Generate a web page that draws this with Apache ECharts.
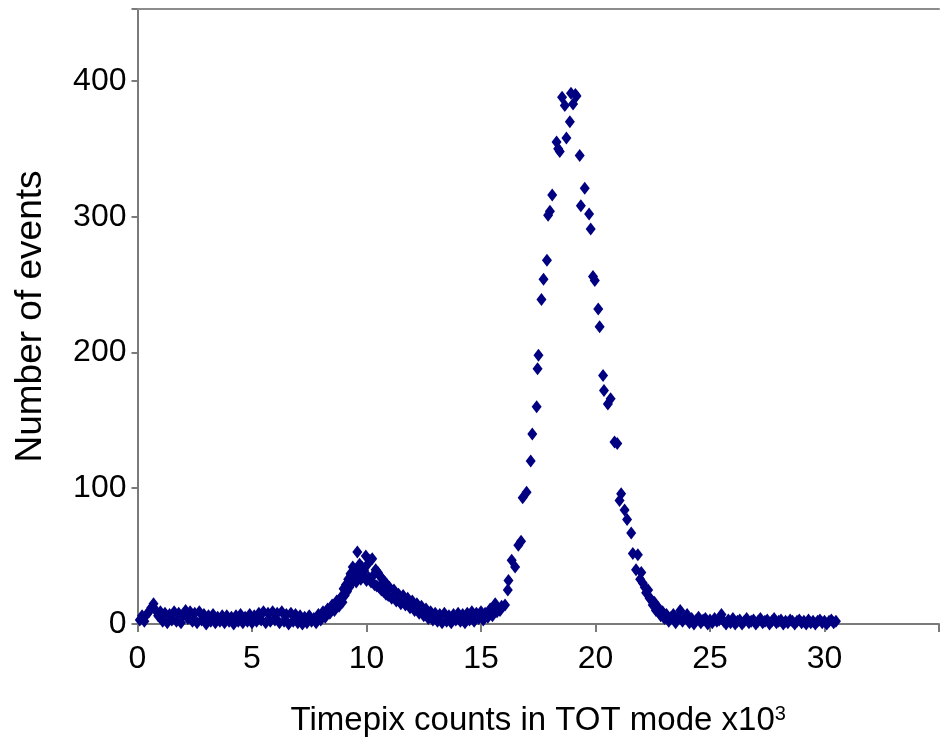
<!DOCTYPE html>
<html>
<head>
<meta charset="utf-8">
<script src="https://cdn.jsdelivr.net/npm/echarts@6/dist/echarts.min.js"></script>
<style>
html,body{margin:0;padding:0;background:#fff;}
#chart{width:942px;height:751px;}
</style>
</head>
<body>
<div id="chart"></div>
<script>
// x = Timepix counts in TOT mode (x10^3), y = number of events
const baseline = [
[0.1,3],[0.2,6],[0.3,2],[0.4,7],[0.5,9],[0.6,12],[0.7,15],[0.8,10],[0.9,6],[1.0,9],
[1.1,2],[1.2,8],[1.3,1],[1.4,7],[1.5,3],[1.6,9],[1.7,2],[1.8,8],[1.9,1],[2.0,7],
[2.1,10],[2.2,4],[2.3,9],[2.4,2],[2.5,8],[2.6,1],[2.7,9],[2.8,3],[2.9,7],[3.0,0],
[3.1,6],[3.2,2],[3.3,7],[3.4,1],[3.5,5],[3.6,2],[3.7,6],[3.8,1],[3.9,6],[4.0,2],
[4.1,5],[4.2,0],[4.3,6],[4.4,2],[4.5,7],[4.6,1],[4.7,5],[4.8,2],[4.9,7],[5.0,1],
[5.1,6],[5.2,2],[5.3,8],[5.4,3],[5.5,9],[5.6,1],[5.7,8],[5.8,2],[5.9,9],[6.0,3],
[6.1,8],[6.2,1],[6.3,9],[6.4,2],[6.5,7],[6.6,0],[6.7,8],[6.8,2],[6.9,7],[7.0,1],
[7.1,6],[7.2,0],[7.3,5],[7.4,1],[7.5,6],[7.6,2],[7.7,4],[7.8,1]
];
const smallPeak = [
[7.9,7],[8.0,3],[8.1,9],[8.2,5],[8.3,11],[8.4,8],[8.5,14],[8.6,10],[8.7,17],[8.8,13],
[8.9,20],[8.95,16],[9.0,26],[9.05,21],[9.1,29],[9.15,24],[9.2,33],[9.25,27],[9.3,37],[9.35,30],
[9.4,42],[9.45,33],[9.5,40],[9.55,31],[9.6,53],[9.65,36],[9.7,44],[9.75,33],[9.8,42],[9.85,35],
[9.9,39],[9.97,50],[10.0,32],[10.05,44],[10.1,34],[10.15,47],[10.2,31],[10.25,48],[10.3,36],[10.35,29],
[10.4,40],[10.45,28],[10.5,38],[10.55,27],[10.6,35],[10.65,25],[10.7,33],[10.75,24],[10.8,31],[10.85,22],
[10.9,29],[10.95,21],[11.0,27],[11.1,19],[11.2,25],[11.3,17],[11.4,22],[11.5,15],[11.6,21],[11.7,14],
[11.8,19],[11.9,12],[12.0,17],[12.1,10],[12.2,15],[12.3,8],[12.4,13],[12.5,6],[12.6,11],[12.7,4],
[12.8,9],[12.9,3],[13.0,8],[13.1,2],[13.2,7],[13.3,1],[13.4,8],[13.5,2],[13.6,6],[13.7,1],
[13.8,7],[13.9,3],[14.0,8],[14.1,2],[14.2,7],[14.3,1],[14.4,8],[14.5,3],[14.6,9],[14.7,2],
[14.8,8],[14.9,4]
];
const mainPeak = [
[15.0,9],[15.1,3],[15.18,8],[15.3,5],[15.4,11],[15.5,6],[15.62,15],[15.7,9],[15.83,10],[15.9,13],
[16.05,14],[16.17,25],[16.2,32],[16.34,47],[16.49,42],[16.63,58],[16.75,61],[16.82,93],[16.99,97],[17.17,120],
[17.24,140],[17.43,160],[17.47,188],[17.51,198],[17.64,239],[17.73,254],[17.88,268],[17.93,301],[18.01,304],[18.11,316],
[18.3,355],[18.37,350],[18.44,348],[18.54,388],[18.66,382],[18.73,358],[18.88,370],[18.93,391],[19.02,383],[19.12,390],
[19.17,389],[19.31,345],[19.36,308],[19.53,321],[19.72,302],[19.79,291],[19.89,256],[19.97,253],[20.12,232],[20.18,219],
[20.33,183],[20.37,172],[20.54,162],[20.66,166],[20.83,134],[20.95,133],[21.05,91],[21.12,96],[21.27,84],[21.38,77],
[21.56,67],[21.63,52],[21.77,40],[21.85,51],[21.95,33],[22.0,38],[22.07,30],[22.15,27],[22.21,23],[22.3,25],
[22.36,19],[22.43,18],[22.5,14],[22.57,16],[22.64,10],[22.75,12],[22.85,6],[22.93,9],[23.01,4],[23.1,7],
[23.2,2],[23.3,5]
];
const tail = [
[23.4,7],[23.5,1],[23.6,5],[23.7,10],[23.8,2],[23.9,5],[24.0,7],[24.1,1],[24.2,4],[24.3,0],
[24.4,3],[24.5,5],[24.6,1],[24.7,3],[24.8,4],[24.9,0],[25.0,3],[25.1,1],[25.2,4],[25.3,2],
[25.4,3],[25.5,7],[25.6,2],[25.7,0],[25.8,3],[25.9,1],[26.0,4],[26.1,0],[26.2,2],[26.3,3],
[26.4,0],[26.5,2],[26.6,4],[26.7,1],[26.8,2],[26.9,3],[27.0,0],[27.1,2],[27.2,4],[27.3,1],
[27.4,2],[27.5,3],[27.6,0],[27.7,2],[27.8,4],[27.9,1],[28.0,2],[28.1,3],[28.2,0],[28.3,2],
[28.4,1],[28.5,3],[28.6,2],[28.7,0],[28.8,2],[28.9,3],[29.0,1],[29.1,2],[29.2,0],[29.3,3],
[29.4,1],[29.5,2],[29.6,0],[29.7,2],[29.8,3],[29.9,1],[30.0,2],[30.1,0],[30.2,2],[30.3,3],
[30.4,1],[30.5,2]
];
const xTickLabels = [0,5,10,15,20,25,30];
const yTickLabels = [0,100,200,300,400];
const xAxisTitle = 'Timepix counts in TOT mode x10';
const xAxisTitleSup = '3';
const yAxisTitle = 'Number of events';

const allPoints = baseline.concat(smallPeak, mainPeak, tail);
const FONT = '"Liberation Sans", Arial, sans-serif';
const axisColor = '#7a7a7a';

const chart = echarts.init(document.getElementById('chart'), null, {renderer: 'canvas'});
chart.setOption({
  animation: false,
  backgroundColor: '#ffffff',
  grid: {left: 137.5, right: 1, top: 9, bottom: 127, containLabel: false},
  xAxis: [{
    type: 'value', min: 0, max: 35, interval: 5,
    splitLine: {show: false},
    axisLine: {show: true, onZero: false, lineStyle: {color: axisColor, width: 2}},
    axisTick: {show: true, inside: false, length: 8, lineStyle: {color: axisColor, width: 2}},
    axisLabel: {
      show: true, margin: 19, color: '#000', fontSize: 32, fontFamily: FONT,
      formatter: v => xTickLabels.indexOf(v) >= 0 ? String(v) : ''
    },
    name: '{b|' + xAxisTitle + '}{s|' + xAxisTitleSup + '}',
    nameLocation: 'middle', nameGap: 80,
    nameTextStyle: {
      color: '#000', fontSize: 33, fontFamily: FONT,
      rich: {
        b: {fontSize: 33, fontFamily: FONT, color: '#000'},
        s: {fontSize: 20, fontFamily: FONT, color: '#000', verticalAlign: 'top'}
      }
    }
  }, {
    type: 'value', position: 'top', min: 0, max: 35,
    splitLine: {show: false},
    axisLine: {show: true, onZero: false, lineStyle: {color: '#8c8c8c', width: 2}},
    axisTick: {show: false}, axisLabel: {show: false}
  }],
  yAxis: {
    type: 'value', min: 0, max: 453, interval: 100,
    splitLine: {show: false},
    axisLine: {show: true, onZero: false, lineStyle: {color: axisColor, width: 2}},
    axisTick: {show: true, inside: false, length: 6, lineStyle: {color: axisColor, width: 2}},
    axisLabel: {
      show: true, margin: 11, color: '#000', fontSize: 32, fontFamily: FONT,
      formatter: v => yTickLabels.indexOf(v) >= 0 ? String(v) : ''
    },
    name: yAxisTitle, nameLocation: 'middle', nameGap: 88, nameRotate: 90,
    nameTextStyle: {color: '#000', fontSize: 37, fontFamily: FONT}
  },
  series: [{
    type: 'scatter',
    xAxisIndex: 0,
    data: allPoints,
    symbol: 'diamond',
    symbolSize: [10, 13],
    itemStyle: {color: '#000080', opacity: 1},
    clip: false
  }]
});
</script>
</body>
</html>
